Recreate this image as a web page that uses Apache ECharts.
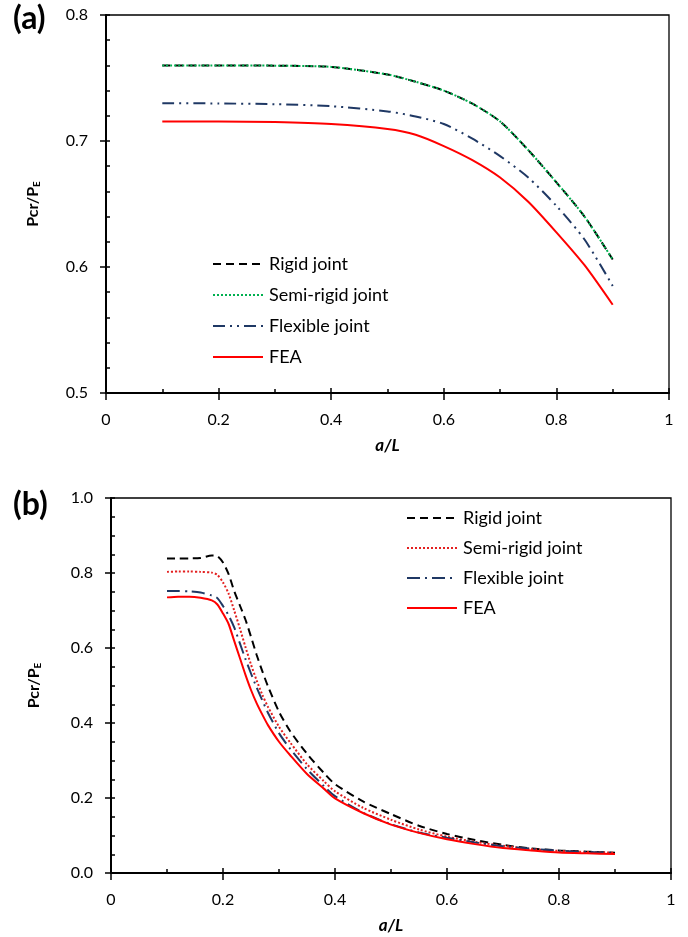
<!DOCTYPE html>
<html>
<head>
<meta charset="utf-8">
<title>Pcr/PE versus a/L</title>
<script src="https://cdn.jsdelivr.net/npm/echarts@6/dist/echarts.min.js"></script>
<style>
  html, body { margin: 0; padding: 0; background: #fff; }
  #chart { width: 688px; height: 937px; }
</style>
</head>
<body>
<div id="chart"></div>
<script>
// ---- Panel (a) ----
const xA = [0.1, 0.2, 0.3, 0.4, 0.5, 0.55, 0.6, 0.65, 0.7, 0.75, 0.8, 0.85, 0.9];
const rigidA = [0.760, 0.760, 0.7598, 0.7588, 0.7528, 0.7470, 0.7400, 0.7298, 0.7155, 0.6928, 0.6672, 0.6400, 0.6060];
const semiA  = [0.760, 0.760, 0.7598, 0.7588, 0.7528, 0.7470, 0.7400, 0.7298, 0.7155, 0.6928, 0.6672, 0.6400, 0.6060];
const flexA  = [0.730, 0.7298, 0.7292, 0.7276, 0.7235, 0.7195, 0.7135, 0.7020, 0.6880, 0.6710, 0.6485, 0.6218, 0.5850];
const feaA   = [0.7155, 0.7155, 0.7150, 0.7134, 0.7095, 0.7050, 0.6960, 0.6850, 0.6710, 0.6518, 0.6275, 0.6014, 0.5700];
const yTicksA = { min: 0.5, max: 0.8, step: 0.1 };

// ---- Panel (b) ----
const xB = [0.10, 0.12, 0.14, 0.16, 0.18, 0.19, 0.20, 0.21, 0.22, 0.23, 0.24, 0.25, 0.26, 0.27, 0.28,
            0.30, 0.32, 0.35, 0.38, 0.40, 0.45, 0.50, 0.55, 0.60, 0.65, 0.70, 0.75, 0.80, 0.85, 0.90];
const rigidB = [0.839, 0.839, 0.839, 0.840, 0.847, 0.845, 0.828, 0.797, 0.752, 0.714, 0.676, 0.630, 0.582, 0.539, 0.499,
                0.430, 0.378, 0.318, 0.267, 0.237, 0.191, 0.157, 0.126, 0.104, 0.088, 0.075, 0.0655, 0.060, 0.057, 0.054];
const semiB  = [0.803, 0.804, 0.804, 0.803, 0.801, 0.795, 0.775, 0.745, 0.700, 0.653, 0.603, 0.556, 0.514, 0.476, 0.444,
                0.390, 0.348, 0.290, 0.245, 0.218, 0.174, 0.142, 0.116, 0.097, 0.083, 0.0725, 0.064, 0.059, 0.056, 0.054];
const flexB  = [0.752, 0.752, 0.751, 0.748, 0.740, 0.733, 0.712, 0.687, 0.655, 0.613, 0.571, 0.532, 0.495, 0.461, 0.428,
                0.373, 0.331, 0.277, 0.232, 0.205, 0.161, 0.130, 0.108, 0.094, 0.0815, 0.0715, 0.0648, 0.0595, 0.056, 0.054];
const feaB   = [0.735, 0.737, 0.737, 0.734, 0.727, 0.716, 0.692, 0.664, 0.619, 0.574, 0.529, 0.488, 0.453, 0.423, 0.395,
                0.350, 0.314, 0.264, 0.225, 0.199, 0.160, 0.129, 0.107, 0.090, 0.077, 0.0665, 0.0603, 0.0548, 0.0525, 0.0507];
const yTicksB = { min: 0.0, max: 1.0, step: 0.2 };

const xTicks = { min: 0, max: 1, step: 0.2 };
const seriesNames = ['Rigid joint', 'Semi-rigid joint', 'Flexible joint', 'FEA'];

// ---- Styles ----
const FONT = 'Lato, "Open Sans", sans-serif';
const styleA = [
  { color: '#000000', width: 2, type: [8, 5] },
  { color: '#00b050', width: 2, type: [2, 2] },
  { color: '#1f3864', width: 2, type: [12, 5, 2, 5, 2, 5] },
  { color: '#ff0000', width: 2, type: 'solid' }
];
const styleB = [
  { color: '#000000', width: 2, type: [8, 5] },
  { color: '#e32020', width: 2, type: [2, 2] },
  { color: '#1f3864', width: 2, type: [13, 5, 2, 5] },
  { color: '#ff0000', width: 2, type: 'solid' }
];

function pairs(xs, ys) { return xs.map((x, i) => [x, ys[i]]); }

function mainX(grid) {
  return {
    type: 'value', gridIndex: grid, position: 'bottom',
    min: xTicks.min, max: xTicks.max, interval: xTicks.step,
    axisLine: { show: true, onZero: false, lineStyle: { color: '#000', width: 2 } },
    axisTick: { show: true, inside: false, length: 7, lineStyle: { color: '#000', width: 1.5 } },
    axisLabel: { color: '#000', fontSize: 16, fontFamily: FONT, margin: 19 },
    splitLine: { show: false },
    name: 'a/L', nameLocation: 'middle', nameGap: 44,
    nameTextStyle: { color: '#000', fontSize: 17, fontWeight: 'bold', fontStyle: 'italic', fontFamily: FONT }
  };
}
function overlayX(grid) {
  return {
    type: 'value', gridIndex: grid, position: 'bottom',
    min: xTicks.min, max: xTicks.max, interval: xTicks.step,
    axisLine: { show: false, onZero: false },
    axisTick: { show: true, inside: true, length: 5, lineStyle: { color: '#000', width: 1.5 } },
    minorTick: { show: true, splitNumber: 2, length: 4, lineStyle: { color: '#000', width: 1.5 } },
    axisLabel: { show: false }, splitLine: { show: false }
  };
}
function mainY(grid, t, gap) {
  return {
    type: 'value', gridIndex: grid, position: 'left',
    min: t.min, max: t.max, interval: t.step,
    axisLine: { show: true, onZero: false, lineStyle: { color: '#000', width: 2 } },
    axisTick: { show: true, inside: false, length: 6, lineStyle: { color: '#000', width: 1.5 } },
    axisLabel: { color: '#000', fontSize: 16, fontFamily: FONT, margin: 18, formatter: v => v.toFixed(1) },
    splitLine: { show: false },
    name: '{m|Pcr/P}{s|E}', nameLocation: 'middle', nameRotate: 90, nameGap: gap,
    nameTextStyle: {
      color: '#000',
      rich: {
        m: { fontSize: 16, fontWeight: 'bold', fontFamily: FONT, color: '#000', lineHeight: 19 },
        s: { fontSize: 10, fontWeight: 'bold', fontFamily: FONT, color: '#000', lineHeight: 19, verticalAlign: 'bottom', padding: [6, 0, 0, 0] }
      }
    }
  };
}
function overlayY(grid, t, minor) {
  return {
    type: 'value', gridIndex: grid, position: 'left',
    min: t.min, max: t.max, interval: t.step,
    axisLine: { show: false, onZero: false },
    axisTick: { show: true, inside: true, length: 4, lineStyle: { color: '#000', width: 1.5 } },
    minorTick: { show: true, splitNumber: minor, length: 4, lineStyle: { color: '#000', width: 1.5 } },
    axisLabel: { show: false }, splitLine: { show: false }
  };
}

function lineSeries(name, xs, ys, st, xi, yi) {
  return {
    name, type: 'line', xAxisIndex: xi, yAxisIndex: yi,
    data: pairs(xs, ys), symbol: 'none', showSymbol: false, smooth: 0.25,
    lineStyle: { color: st.color, width: st.width, type: st.type, cap: 'butt' },
    itemStyle: { color: st.color },
    silent: true, z: 3
  };
}

// Legend keys show only the line sample (no marker dot)
function legendBlock(left, top, gap, styles) {
  return {
    orient: 'vertical', left, top, padding: 0, itemWidth: 50, itemHeight: 18, itemGap: gap,
    selectedMode: false,
    textStyle: { color: '#000', fontSize: 18, fontFamily: FONT, padding: [0, 0, 0, 1] },
    data: seriesNames.map((n, i) => ({
      name: n,
      lineStyle: { color: styles[i].color, width: styles[i].width, type: styles[i].type, cap: 'butt', opacity: 1 },
      itemStyle: { color: styles[i].color, opacity: 0, borderWidth: 0 }
    }))
  };
}

const chart = echarts.init(document.getElementById('chart'), null, { renderer: 'canvas' });

const series = [];
[rigidA, semiA, flexA, feaA].forEach((ys, i) => series.push(lineSeries(seriesNames[i], xA, ys, styleA[i], 0, 0)));
[rigidB, semiB, flexB, feaB].forEach((ys, i) => series.push(lineSeries(seriesNames[i], xB, ys, styleB[i], 2, 2)));

chart.setOption({
  animation: false,
  backgroundColor: '#fff',
  grid: [
    { left: 106, top: 15, width: 563, height: 378, show: true, borderColor: '#000', borderWidth: 1.3, backgroundColor: 'transparent' },
    { left: 111, top: 498, width: 560, height: 375, show: true, borderColor: '#000', borderWidth: 1.3, backgroundColor: 'transparent' }
  ],
  xAxis: [mainX(0), overlayX(0), mainX(1), overlayX(1)],
  yAxis: [mainY(0, yTicksA, 64), overlayY(0, yTicksA, 5), mainY(1, yTicksB, 68), overlayY(1, yTicksB, 4)],
  legend: [legendBlock(212, 255, 13, styleA), legendBlock(406, 509, 12, styleB)],
  graphic: [
    { type: 'text', left: 13, top: 3, style: { text: '(a)', font: 'bold 32px ' + FONT, fill: '#000' } },
    { type: 'text', left: 13, top: 489, style: { text: '(b)', font: 'bold 32px ' + FONT, fill: '#000' } }
  ],
  series
});
</script>
</body>
</html>
